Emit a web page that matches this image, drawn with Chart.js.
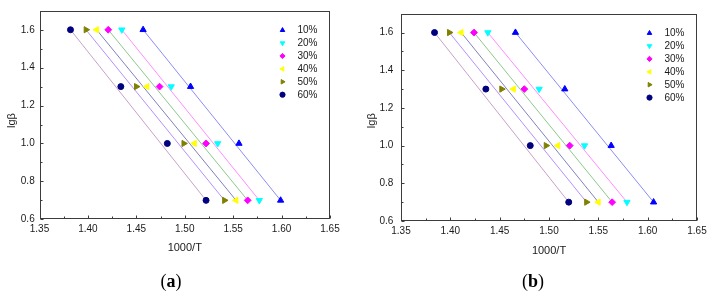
<!DOCTYPE html>
<html><head><meta charset="utf-8">
<script src="https://cdn.jsdelivr.net/npm/chart.js@4/dist/chart.umd.min.js"></script>
<style>
html,body{margin:0;padding:0;background:#fff;}
#wrap{position:relative;width:712px;height:295px;overflow:hidden;background:#fff;}
.pane{position:absolute;top:0;height:295px;}
.cap{position:absolute;font-family:"Liberation Serif","Times New Roman",serif;font-size:18px;color:#000;transform:translateX(-50%);white-space:nowrap;line-height:18px;}
</style></head><body>
<div id="wrap">
<div class="pane" style="left:0;width:360px"><canvas id="ca" width="360" height="295"></canvas></div>
<div class="pane" style="left:360px;width:352px"><canvas id="cb" width="352" height="295"></canvas></div>
<div class="cap" style="left:171px;top:271.5px">(<b>a</b>)</div>
<div class="cap" style="left:533px;top:271.5px">(<b>b</b>)</div>
</div>
<script>
// ---- data ----
const seriesLabels = ['10%', '20%', '30%', '40%', '50%', '60%'];
const lgBeta = [1.6, 1.3, 1.0, 0.7];
const xTicks = [1.35, 1.40, 1.45, 1.50, 1.55, 1.60, 1.65];
const xMinorTicks = [1.375, 1.425, 1.475, 1.525, 1.575, 1.625];
const yTicks = [0.6, 0.8, 1.0, 1.2, 1.4, 1.6];
const yMinorTicks = [0.7, 0.9, 1.1, 1.3, 1.5];

// panel (a): 1000/T at lgβ = 1.6, 1.3, 1.0, 0.7
const a10 = [1.457, 1.506, 1.556, 1.599];
const a20 = [1.435, 1.486, 1.534, 1.577];
const a30 = [1.421, 1.474, 1.522, 1.565];
const a40 = [1.409, 1.461, 1.510, 1.553];
const a50 = [1.398, 1.450, 1.499, 1.541];
const a60 = [1.382, 1.434, 1.482, 1.522];

// panel (b)
const b10 = [1.466, 1.516, 1.563, 1.606];
const b20 = [1.438, 1.490, 1.536, 1.579];
const b30 = [1.424, 1.475, 1.521, 1.564];
const b40 = [1.411, 1.464, 1.509, 1.550];
const b50 = [1.399, 1.452, 1.497, 1.538];
const b60 = [1.384, 1.436, 1.481, 1.520];

// ---- styles ----
const markerColors = ['#0000ff', '#00ffff', '#ff00ff', '#ffff00', '#808000', '#000080'];
const lineColors = ['#8c8cf4', '#ff8cff', '#8cc88c', '#8080c0', '#b490ff', '#c8a0c8'];
const pointStyles = ['triangle', 'triangle', 'rectRot', 'triangle', 'triangle', 'circle'];
const pointRots = [0, 180, 0, 270, 90, 0];
const pointRadii = [3.6, 3.6, 3.4, 3.6, 3.6, 3.0];

const FONT = "'Liberation Sans', Arial, sans-serif";
const TXT = '#1a1a1a';

function drawMarker(ctx, i, x, y, r) {
  ctx.save();
  ctx.fillStyle = markerColors[i];
  ctx.strokeStyle = markerColors[i];
  ctx.lineWidth = 1;
  if (Chart.helpers && Chart.helpers.drawPoint) {
    Chart.helpers.drawPoint(ctx, {pointStyle: pointStyles[i], rotation: pointRots[i], radius: r, borderWidth: 1}, x, y);
  } else {
    ctx.beginPath();
    ctx.arc(x, y, r, 0, Math.PI * 2);
    ctx.fill();
  }
  ctx.restore();
}

function makeChart(canvasId, series, L) {
  const datasets = [];
  series.forEach((s, i) => {
    datasets.push({
      label: seriesLabels[i],
      data: s.map((v, k) => ({x: v, y: lgBeta[k]})),
      showLine: false,
      pointStyle: pointStyles[i],
      rotation: pointRots[i],
      pointRadius: pointRadii[i],
      backgroundColor: markerColors[i],
      borderColor: markerColors[i],
      borderWidth: 1,
      order: 0
    });
  });
  series.forEach((s, i) => {
    datasets.push({
      label: seriesLabels[i] + ' fit',
      data: [{x: s[0], y: lgBeta[0]}, {x: s[s.length - 1], y: lgBeta[lgBeta.length - 1]}],
      showLine: true,
      pointRadius: 0,
      borderColor: lineColors[i],
      borderWidth: 1,
      fill: false,
      order: 1
    });
  });

  const deco = {
    id: 'deco',
    afterDraw(chart) {
      const ctx = chart.ctx, a = chart.chartArea, xs = chart.scales.x, ys = chart.scales.y;
      ctx.save();
      // frame
      const l = Math.round(a.left) + 0.5, t = Math.round(a.top) + 0.5;
      const r = Math.round(a.right) - 0.5, b = Math.round(a.bottom) - 0.5;
      ctx.strokeStyle = '#3c3c3c';
      ctx.lineWidth = 1;
      ctx.strokeRect(l, t, r - l, b - t);
      // inward ticks
      ctx.beginPath();
      yTicks.forEach(v => { const p = Math.round(ys.getPixelForValue(v)) + 0.5; ctx.moveTo(l, p); ctx.lineTo(l + 3, p); });
      yMinorTicks.forEach(v => { const p = Math.round(ys.getPixelForValue(v)) + 0.5; ctx.moveTo(l, p); ctx.lineTo(l + 2, p); });
      xTicks.forEach(v => { const p = Math.round(xs.getPixelForValue(v)) + 0.5; ctx.moveTo(p, b); ctx.lineTo(p, b - 3); });
      xMinorTicks.forEach(v => { const p = Math.round(xs.getPixelForValue(v)) + 0.5; ctx.moveTo(p, b); ctx.lineTo(p, b - 2); });
      ctx.stroke();
      // legend
      ctx.font = '10px ' + FONT;
      ctx.fillStyle = TXT;
      ctx.textAlign = 'left';
      ctx.textBaseline = 'middle';
      seriesLabels.forEach((lab, i) => {
        const yy = a.top + 19.4 + i * 12.9;
        drawMarker(ctx, i, a.right - 47.5, yy, 2.6);
        ctx.fillStyle = TXT;
        ctx.fillText(lab, a.right - 32.5, yy + 0.5);
      });
      // y title
      ctx.translate(12.2, L.yTitleY);
      ctx.rotate(-Math.PI / 2);
      ctx.font = '11px ' + FONT;
      ctx.textAlign = 'center';
      ctx.textBaseline = 'middle';
      ctx.fillText('lgβ', 0, 0);
      ctx.restore();
    }
  };

  return new Chart(document.getElementById(canvasId), {
    type: 'scatter',
    data: {datasets},
    options: {
      responsive: false,
      animation: false,
      events: [],
      layout: {padding: {top: L.top, right: L.right, bottom: 0, left: 0}},
      plugins: {legend: {display: false}, tooltip: {enabled: false}, title: {display: false}},
      scales: {
        x: {
          type: 'linear', position: 'bottom', min: 1.35, max: 1.65,
          afterBuildTicks: ax => { ax.ticks = xTicks.map(v => ({value: v})); },
          afterFit: ax => { ax.height = L.xH; },
          ticks: {callback: v => Number(v).toFixed(2), font: {family: FONT, size: 10}, color: TXT, padding: L.xPad, maxRotation: 0, autoSkip: false},
          grid: {display: false, drawTicks: false},
          border: {display: false},
          title: {display: true, text: '1000/T', font: {family: FONT, size: 11}, color: TXT, padding: {top: 0, bottom: L.xTitlePad}}
        },
        y: {
          type: 'linear', position: 'left', min: 0.6, max: 1.7,
          afterBuildTicks: ax => { ax.ticks = yTicks.map(v => ({value: v})); },
          afterFit: ax => { ax.width = L.yW; },
          ticks: {callback: v => Number(v).toFixed(1), font: {family: FONT, size: 10}, color: TXT, padding: L.yPad, autoSkip: false},
          grid: {display: false, drawTicks: false},
          border: {display: false},
          title: {display: false}
        }
      }
    },
    plugins: [deco]
  });
}

makeChart('ca', [a10, a20, a30, a40, a50, a60],
  {top: 7.3, right: 30, xH: 75.7, yW: 39.5, xPad: 4, yPad: 4.8, xTitlePad: 40.4, yTitleY: 120.5});
makeChart('cb', [b10, b20, b30, b40, b50, b60],
  {top: 5.7, right: 15, xH: 74, yW: 41, xPad: 4, yPad: 7.7, xTitlePad: 37.9, yTitleY: 120.7});
</script>
</body></html>
